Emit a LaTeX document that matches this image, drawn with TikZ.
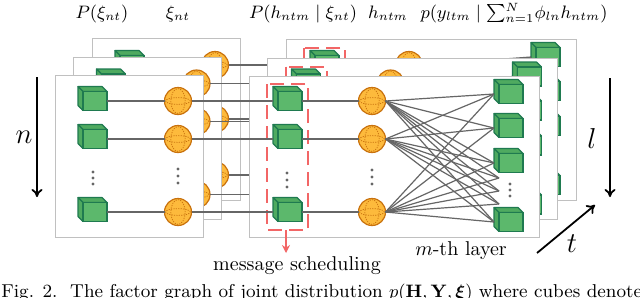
\documentclass[tikz,border=0pt]{standalone}
\usepackage{amsmath}
\usepackage{bm}
\usetikzlibrary{arrows.meta}
\definecolor{cubefill}{HTML}{5CB86C}
\definecolor{cubeside}{HTML}{4FAA60}
\definecolor{cubeedge}{HTML}{1F7A50}
\definecolor{sphfill}{HTML}{FDBA3C}
\definecolor{sphedge}{HTML}{C9720E}
\definecolor{panelgray}{HTML}{C0C0C0}
\definecolor{conngray}{HTML}{666666}
\definecolor{schedred}{HTML}{F26666}
\tikzset{
  panel/.style={draw=panelgray, fill=white, line width=0.5pt},
  conn/.style={draw=conngray, line width=0.6pt},
  cubefront/.style={draw=cubeedge, fill=cubefill, line width=0.55pt, minimum width=12pt, minimum height=9.5pt, inner sep=0pt, outer sep=0pt},
  cubeface/.style={draw=cubeedge, fill=cubeside, line width=0.55pt, line join=round},
  sphere/.style={circle, draw=sphedge, fill=sphfill, line width=0.6pt, minimum size=13.5pt, inner sep=0pt, outer sep=0pt,
    path picture={
      \draw[sphedge, line width=0.35pt, dash pattern=on 0.6pt off 0.6pt] (path picture bounding box.center) ellipse [x radius=6.2pt, y radius=1.7pt];
      \draw[sphedge, line width=0.35pt, dash pattern=on 0.6pt off 0.6pt] (path picture bounding box.center) ellipse [x radius=3.6pt, y radius=6.2pt];
    }},
  schedbox/.style={draw=schedred, line width=1pt, dash pattern=on 7pt off 3.5pt},
  bigarrow/.style={line width=0.9pt, -{To[length=4pt,width=5.5pt]}},
  toplabel/.style={anchor=base, font=\fontsize{9.2}{11}\selectfont},
}
\newcommand{\mycube}[3]{%
  \filldraw[cubeface] (#2-12,#3-9.5) -- (#2+12,#3-9.5) -- (#2+7,#3-14.5) -- (#2-17,#3-14.5) -- cycle;
  \filldraw[cubeface] (#2-12,#3-9.5) -- (#2-12,#3+9.5) -- (#2-17,#3+4.5) -- (#2-17,#3-14.5) -- cycle;
  \node[cubefront] (#1) at (#2,#3) {};}
\newcommand{\vdotsat}[4]{% x, y1, y2, y3
  \fill[conngray] (#1,#2) circle (0.85pt) (#1,#3) circle (0.85pt) (#1,#4) circle (0.85pt);}
\newcommand{\drawlayer}[6]{% prefix, shift x, shift y, row1, row2, row3
\begin{scope}[shift={(#2,#3)}]
  \draw[panel] (55,75) rectangle (203,237);
  \draw[panel] (249,76) rectangle (539,237);
  \draw[schedbox] (267,#4-17) rectangle (308,#6+18);
  \mycube{#1lc1}{95}{#4}\mycube{#1lc2}{95}{#5}\mycube{#1lc3}{95}{#6}
  \node[sphere] (#1ls1) at (178,#4) {};
  \node[sphere] (#1ls2) at (178,#5) {};
  \node[sphere] (#1ls3) at (178,#6) {};
  \mycube{#1hc1}{290}{#4}\mycube{#1hc2}{290}{#5}\mycube{#1hc3}{290}{#6}
  \node[sphere] (#1hs1) at (372,#4) {};
  \node[sphere] (#1hs2) at (372,#5) {};
  \node[sphere] (#1hs3) at (372,#6) {};
  \mycube{#1y1}{511}{94}\mycube{#1y2}{511}{128}\mycube{#1y3}{511}{163}\mycube{#1y4}{511}{222}
  \coordinate (#1d1) at (499,178);
  \coordinate (#1d2) at (499,191);
  \coordinate (#1d3) at (499,204);
  \foreach \i in {1,2,3}{
    \draw[conn] (#1lc\i.east) -- (#1ls\i.west);
    \draw[conn] (#1ls\i.east) -- ([xshift=-2.5pt]#1hc\i.west);
    \draw[conn] (#1hc\i.east) -- (#1hs\i.west);
    \foreach \j in {1,2,3,4}{ \draw[conn] (#1hs\i.east) -- ([xshift=-2.5pt]#1y\j.west); }
    \foreach \j in {1,2,3}{ \draw[conn] (#1hs\i.east) -- (#1d\j); }
  }
  \vdotsat{93}{172}{178}{184}
  \vdotsat{178}{169}{176}{183}
  \vdotsat{287}{173}{180}{187}
  \vdotsat{372}{170}{177}{184}
  \vdotsat{510}{184}{190}{196}
\end{scope}}
\begin{document}
\begin{tikzpicture}[x=0.5pt,y=-0.5pt]
\useasboundingbox (0,0) rectangle (640,297);
\clip (0,0) rectangle (640,297);
% top labels
\node[toplabel] (lab1) at (102,18) {$P(\xi_{nt})$};
\node[toplabel] (lab2) at (178,18) {$\xi_{nt}$};
\node[toplabel] (lab3) at (303,18) {$P(h_{ntm}\mid\xi_{nt})$};
\node[toplabel] (lab4) at (388,18) {$h_{ntm}$};
\node[toplabel] (lab5) at (514,18) {$p(y_{ltm}\mid{\textstyle\sum_{n=1}^{\raisebox{-2pt}{$\scriptstyle N$}}}\phi_{ln}h_{ntm})$};
% layers, back to front
\drawlayer{B}{37}{-37}{102}{156}{212}
\drawlayer{M}{18.5}{-17.5}{101}{139}{212}
\drawlayer{F}{0}{0}{101}{139}{212}
% message scheduling
\node[anchor=base] (msg) at (297,270) {message scheduling};
\coordinate (schedfoot) at (286,230);
\coordinate (schedtip) at (286,253);
\draw[draw=schedred, line width=1pt, -{Stealth[length=4pt,width=4pt]}] (schedfoot) -- (schedtip);
\node[anchor=base] (mth) at (461,255) {$m$-th layer};
% direction arrows
\coordinate (n0) at (37,77); \coordinate (n1) at (37,197);
\draw[bigarrow] (n0) -- (n1);
\node[font=\Large] (nlab) at (24,137) {$n$};
\coordinate (l0) at (610,78); \coordinate (l1) at (610,197);
\draw[bigarrow] (l0) -- (l1);
\node[font=\Large] (llab) at (592,138) {$l$};
\coordinate (t0) at (537,253); \coordinate (t1) at (595,205);
\draw[bigarrow] (t0) -- (t1);
\node[font=\Large] (tlab) at (572,244) {$t$};
% caption (cut off at the bottom)
\node[anchor=base west, inner sep=0pt, font=\fontsize{9.3}{11}\selectfont] (cap) at (1,297) {Fig. 2.\ \ The factor graph of joint distribution $p(\mathbf{H},\mathbf{Y},\bm{\xi})$ where cubes denote};
\end{tikzpicture}
\end{document}
